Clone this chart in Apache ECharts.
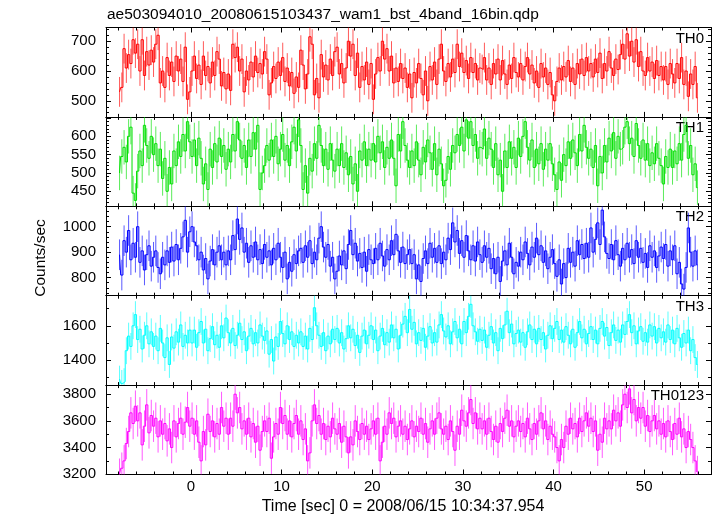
<!DOCTYPE html>
<html><head><meta charset="utf-8">
<script src="https://cdn.jsdelivr.net/npm/echarts@6/dist/echarts.min.js"></script>
<style>html,body{margin:0;padding:0;background:#fff}#c{width:717px;height:516px}</style>
</head><body><div id="c"></div>
<script>
const titleText = 'ae503094010_20080615103437_wam1_bst_4band_16bin.qdp';
const xTitle = 'Time [sec] 0 = 2008/06/15 10:34:37.954';
const yTitle = 'Counts/sec';
const bandNames = ['TH0', 'TH1', 'TH2', 'TH3', 'TH0123'];
const T_START = -7.875;   // centre of first 0.25 s bin
const BIN = 0.25;

const th0 = [
530,545,675,610,655,625,705,660,690,600,705,585,665,620,670,630,
690,720,560,600,545,645,585,630,565,650,600,640,565,680,505,530,
600,650,575,620,555,650,585,615,560,630,585,665,640,550,595,540,
590,535,690,645,680,600,640,530,600,570,630,580,650,595,625,590,
665,640,520,560,615,575,630,585,645,565,610,550,595,525,580,545,
670,620,540,590,715,690,520,575,510,655,580,620,570,640,585,665,
680,590,625,560,610,700,650,690,585,660,545,615,570,630,555,625,
505,590,645,600,700,640,675,600,650,560,610,565,625,575,610,545,
590,510,595,560,625,575,520,600,500,615,570,630,555,640,690,600,
565,625,580,640,595,690,615,660,595,635,575,645,595,625,570,610,
605,645,570,610,555,625,590,640,570,635,590,555,620,575,645,595,
580,625,570,615,645,590,620,560,600,545,625,580,610,555,595,520,
500,565,610,570,615,580,635,565,610,555,625,590,640,585,645,600,
625,580,640,595,660,575,625,600,665,610,585,640,605,655,690,640,
725,650,700,630,705,615,665,600,585,645,600,630,575,635,585,615,
570,615,555,625,590,560,625,575,645,555,600,515,590,555,615,510];

const th1 = [
500,545,570,530,600,625,445,425,505,560,520,630,575,540,600,550,
580,520,565,485,540,450,515,470,560,520,585,545,605,560,640,585,
545,590,520,595,540,470,525,455,565,515,580,530,595,545,575,510,
565,530,605,560,640,590,540,575,515,590,545,610,565,630,455,500,
520,575,535,590,545,600,525,565,605,535,575,520,585,625,560,645,
575,455,520,445,540,505,580,540,630,575,520,565,510,580,535,505,
565,520,580,515,555,495,545,470,525,450,560,535,585,520,565,535,
580,530,600,555,585,515,570,540,590,540,465,605,560,640,575,535,
515,560,520,585,535,495,570,530,590,555,510,580,495,565,525,465,
480,545,510,575,555,605,575,625,560,645,595,640,575,605,540,570,
565,620,540,595,565,515,580,495,535,450,560,515,585,540,570,515,
595,545,600,640,570,535,590,515,565,525,580,510,565,535,580,525,
495,455,530,480,550,520,585,540,590,555,520,605,560,630,570,540,
565,515,575,465,545,500,575,530,595,560,610,540,600,565,570,625,
640,580,595,545,635,575,540,590,535,580,520,555,525,580,540,520,
470,545,515,565,515,560,525,580,535,605,630,540,575,495,525,460];

const th2 = [
890,810,945,900,985,870,935,880,1000,860,905,830,890,925,845,880,
905,840,815,880,850,905,860,920,865,930,870,915,960,1025,900,980,
1000,940,925,870,900,830,875,795,865,910,850,900,925,870,900,850,
905,870,965,910,1030,950,995,900,935,860,925,880,940,870,910,855,
930,880,905,850,915,870,935,880,840,900,795,860,825,890,855,905,
915,860,925,880,945,855,900,870,955,1000,920,880,930,845,880,795,
825,885,850,905,835,930,985,890,935,865,895,840,900,825,910,870,
855,915,870,935,885,845,910,870,945,890,970,905,860,920,855,890,
910,855,890,795,850,785,875,905,855,935,880,915,860,925,855,900,
870,955,910,1015,940,985,895,945,880,965,905,870,925,865,940,890,
860,925,880,915,835,875,815,880,785,865,905,850,935,880,815,860,
845,900,870,940,895,850,920,880,955,890,925,860,905,835,880,910,
855,805,870,775,855,800,915,860,900,845,945,890,930,875,935,880,
995,900,950,1015,930,1065,960,895,875,930,870,945,890,845,915,870,
935,880,910,855,945,880,915,860,895,840,925,880,905,840,885,920,
875,930,845,905,870,925,815,860,775,755,840,995,900,845,905,850];

const th3 = [
1290,1265,1275,1455,1540,1480,1600,1665,1520,1580,1465,1545,1600,1495,1565,1480,
1540,1455,1585,1500,1415,1530,1375,1535,1470,1565,1505,1605,1480,1545,1500,1575,
1500,1575,1475,1560,1625,1500,1580,1455,1525,1595,1490,1545,1475,1600,1530,1645,
1560,1500,1585,1485,1545,1615,1520,1565,1455,1540,1585,1495,1560,1500,1605,1540,
1515,1570,1435,1520,1395,1535,1480,1625,1555,1495,1600,1520,1565,1480,1545,1500,
1565,1480,1540,1465,1585,1520,1705,1600,1545,1480,1560,1455,1540,1495,1580,1520,
1585,1500,1560,1465,1525,1600,1530,1580,1485,1545,1445,1540,1575,1495,1545,1600,
1520,1575,1455,1540,1585,1490,1560,1505,1605,1530,1580,1465,1545,1610,1655,1560,
1695,1580,1620,1495,1560,1515,1585,1475,1540,1595,1500,1560,1505,1605,1665,1570,
1535,1600,1495,1565,1625,1530,1580,1495,1625,1560,1655,1725,1600,1565,1510,1580,
1515,1575,1475,1545,1595,1500,1560,1455,1585,1525,1605,1685,1560,1610,1495,1555,
1575,1505,1560,1475,1565,1605,1520,1580,1495,1585,1520,1560,1465,1545,1600,1525,
1585,1625,1520,1575,1505,1595,1545,1495,1580,1475,1560,1625,1530,1580,1495,1555,
1595,1520,1575,1495,1585,1625,1540,1590,1485,1560,1605,1515,1575,1505,1605,1550,
1625,1665,1560,1600,1495,1570,1595,1510,1560,1505,1605,1540,1595,1500,1585,1530,
1565,1505,1605,1520,1575,1495,1585,1530,1475,1555,1500,1575,1455,1520,1415,1375];

const th0123 = [
3200,3245,3300,3430,3520,3660,3580,3710,3600,3660,3420,3560,3720,3510,3640,3560,
3620,3480,3600,3500,3580,3450,3540,3400,3600,3480,3580,3620,3500,3590,3700,3560,
3620,3500,3600,3440,3300,3520,3420,3650,3520,3600,3480,3580,3500,3700,3560,3620,
3500,3620,3560,3800,3660,3700,3540,3600,3500,3620,3480,3580,3440,3560,3380,3520,
3600,3520,3620,3320,3480,3580,3500,3700,3580,3640,3500,3600,3480,3580,3640,3500,
3600,3460,3540,3300,3360,3600,3720,3580,3640,3500,3580,3460,3560,3480,3620,3540,
3500,3580,3440,3560,3480,3360,3480,3420,3600,3520,3460,3580,3500,3560,3460,3540,
3600,3500,3620,3300,3440,3560,3500,3660,3580,3620,3480,3560,3600,3500,3560,3460,
3540,3600,3480,3560,3520,3620,3500,3580,3440,3540,3600,3500,3620,3660,3540,3500,
3560,3460,3600,3520,3380,3560,3500,3680,3600,3560,3660,3760,3580,3660,3540,3620,
3540,3600,3500,3620,3520,3460,3560,3440,3580,3520,3620,3680,3560,3600,3480,3560,
3600,3520,3580,3480,3620,3540,3460,3580,3500,3600,3660,3540,3600,3460,3560,3500,
3480,3400,3300,3460,3400,3560,3500,3620,3540,3580,3480,3620,3520,3600,3660,3560,
3620,3520,3600,3380,3500,3440,3620,3540,3600,3540,3680,3600,3660,3560,3720,3800,
3700,3840,3660,3760,3600,3700,3620,3700,3560,3640,3520,3600,3640,3540,3600,3500,
3580,3480,3600,3520,3460,3580,3500,3620,3480,3540,3400,3520,3460,3400,3300,3220];

// half-length of the 1-sigma error bars, per panel (counts/sec)
const errHalf = [50, 47, 60, 78, 118];
// axis ranges, tick steps and labelled ticks
const yMin = [446, 409, 729, 1255, 3198];
const yMax = [746, 653, 1080, 1775, 3868];
const yMajor = [100, 50, 100, 200, 200];
const yMinorSplit = [5, 5, 5, 2, 2];
const yTickLabels = [
  [500, 600, 700],
  [450, 500, 550, 600],
  [800, 900, 1000],
  [1400, 1600],
  [3200, 3400, 3600, 3800]];
const xMin = -9.37, xMax = 57.37, xMajor = 10, xMinorSplit = 5;
const xTickLabels = [0, 10, 20, 30, 40, 50];

const panels = [th0, th1, th2, th3, th0123];
const colors = ['#ff0000', '#00e000', '#0000ff', '#00ffff', '#ff00ff'];

const FONT = '"Liberation Sans", Arial, Helvetica, sans-serif';
const GL = 106, GR = 711, GTOP = 27.5, GBOT = 474.5;
const PH = (GBOT - GTOP) / 5;

const grids = [], xAxes = [], yAxes = [], series = [], graphics = [];
panels.forEach((vals, i) => {
  const top = GTOP + i * PH;
  grids.push({ left: GL, width: GR - GL, top: top, height: PH, containLabel: false, outerBoundsMode: 'none' });
  const isBottom = i === 4;
  const xBase = {
    type: 'value', gridIndex: i, min: xMin, max: xMax,
    minInterval: xMajor, maxInterval: xMajor, splitNumber: 7,
    axisLine: { show: true, onZero: false, lineStyle: { color: '#000', width: 1 } },
    axisTick: { show: true, inside: true, length: 5, lineStyle: { color: '#000', width: 1 } },
    minorTick: { show: true, splitNumber: xMinorSplit, length: 3, lineStyle: { color: '#000', width: 1 } },
    splitLine: { show: false }, minorSplitLine: { show: false }
  };
  xAxes.push(Object.assign({}, xBase, {
    position: 'bottom',
    axisLabel: { show: isBottom, margin: 5, fontSize: 15, color: '#000', fontFamily: FONT,
      showMinLabel: false, showMaxLabel: false,
      formatter: v => (xTickLabels.indexOf(Math.round(v * 1000) / 1000) >= 0 ? String(v) : '') }
  }));
  xAxes.push(Object.assign({}, xBase, { position: 'top', axisLabel: { show: false } }));
  const yBase = {
    type: 'value', gridIndex: i, min: yMin[i], max: yMax[i],
    minInterval: yMajor[i], maxInterval: yMajor[i], splitNumber: 3,
    axisLine: { show: true, onZero: false, lineStyle: { color: '#000', width: 1 } },
    axisTick: { show: true, inside: true, length: 5, lineStyle: { color: '#000', width: 1 } },
    minorTick: { show: true, splitNumber: yMinorSplit[i], length: 3, lineStyle: { color: '#000', width: 1 } },
    splitLine: { show: false }, minorSplitLine: { show: false }
  };
  const labs = yTickLabels[i];
  yAxes.push(Object.assign({}, yBase, {
    position: 'left',
    axisLabel: { show: true, margin: 10, fontSize: 15, color: '#000', fontFamily: FONT,
      showMinLabel: false, showMaxLabel: false,
      formatter: v => (labs.indexOf(Math.round(v)) >= 0 && Math.abs(v - Math.round(v)) < 1e-6 ? String(Math.round(v)) : '') }
  }));
  yAxes.push(Object.assign({}, yBase, { position: 'right', axisLabel: { show: false } }));

  const pts = vals.map((v, k) => [T_START + k * BIN, v, errHalf[i]]);
  const col = colors[i];
  series.push({
    type: 'custom', xAxisIndex: 2 * i, yAxisIndex: 2 * i, clip: true, silent: true,
    data: pts, encode: { x: 0, y: 1 },
    renderItem: (params, api) => {
      const t = api.value(0), v = api.value(1), e = api.value(2);
      const a = api.coord([t, v - e]), b = api.coord([t, v + e]);
      return { type: 'line', shape: { x1: a[0], y1: a[1], x2: b[0], y2: b[1] },
        style: { stroke: col, lineWidth: 1, opacity: 0.65 } };
    },
    z: 2
  });
  series.push({
    type: 'line', xAxisIndex: 2 * i, yAxisIndex: 2 * i, step: 'middle',
    data: pts.map(p => [p[0], p[1]]), symbol: 'none', showSymbol: false, clip: true, silent: true,
    lineStyle: { color: col, width: 1 }, z: 3
  });
  graphics.push({ type: 'text', x: 704, y: top + 11,
    style: { text: bandNames[i], fill: '#000', font: '15px ' + FONT, textAlign: 'right', textVerticalAlign: 'middle' } });
});

graphics.push({ type: 'text', x: 107, y: 15,
  style: { text: titleText, fill: '#000', font: '15.5px ' + FONT, textAlign: 'left', textVerticalAlign: 'middle' } });
graphics.push({ type: 'text', x: 403, y: 507,
  style: { text: xTitle, fill: '#000', font: '16px ' + FONT, textAlign: 'center', textVerticalAlign: 'middle' } });
graphics.push({ type: 'text', x: 41, y: 258, rotation: Math.PI / 2,
  style: { text: yTitle, fill: '#000', font: '15.5px ' + FONT, textAlign: 'center', textVerticalAlign: 'middle' } });

const chart = echarts.init(document.getElementById('c'), null, { renderer: 'canvas' });
chart.setOption({
  animation: false,
  backgroundColor: '#fff',
  grid: grids, xAxis: xAxes, yAxis: yAxes, series: series, graphic: graphics
});
</script></body></html>
